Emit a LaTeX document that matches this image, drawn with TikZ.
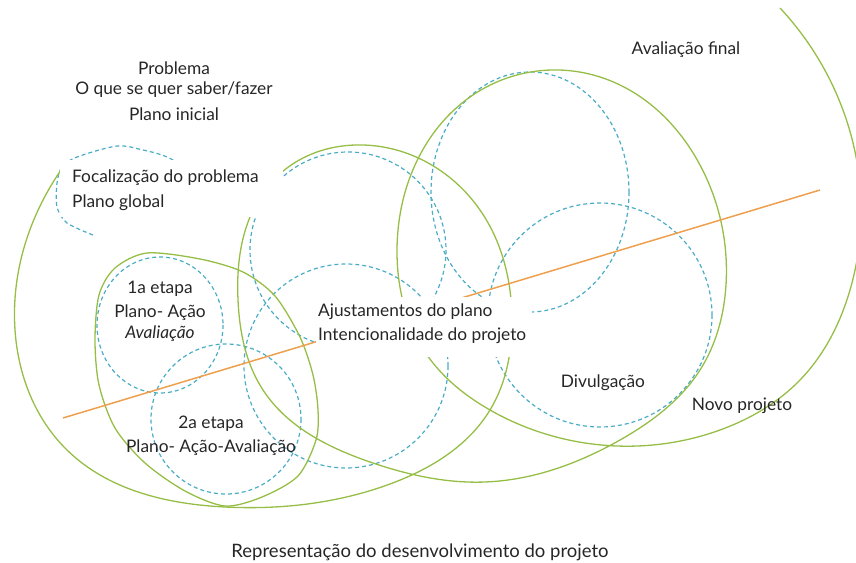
\documentclass[tikz,border=0pt]{standalone}
\usepackage{fontspec}
\setmainfont{Lato}
\usetikzlibrary{hobby}

\definecolor{spiralgreen}{RGB}{150,190,70}
\definecolor{loopblue}{RGB}{75,172,198}
\definecolor{axisorange}{RGB}{238,160,78}
\definecolor{labelgray}{RGB}{38,38,38}

\tikzset{
  spiral/.style={draw=spiralgreen, line width=1.3pt},
  loop/.style={draw=loopblue, line width=1.2pt, dash pattern=on 4pt off 3pt},
  axis/.style={draw=axisorange, line width=1.5pt},
  cover/.style={fill=white, draw=none, inner sep=0pt},
  lbl/.style={text=labelgray, font=\fontsize{17.3}{20}\selectfont, inner sep=0pt, anchor=base},
}

\begin{document}
\begin{tikzpicture}[x=1pt, y=-1pt]
    \useasboundingbox (0,0) rectangle (856,562);
    \clip (0,0) rectangle (856,562);

    % dashed loops
    \draw[loop] plot[smooth] coordinates {(93,235) (67,223) (57,207) (57,183) (62,167) (77,157) (117,146) (143,150) (167,157) (200,175)};
    \draw[loop] (160,325) ellipse [x radius=63, y radius=68];
    \draw[loop] (226,419) circle [radius=75];
    \draw[loop] (348,250) circle [radius=98];
    \draw[loop] (346,366) circle [radius=102];
    \draw[loop] (530,192) ellipse [x radius=99, y radius=120];
    \draw[loop] (600,315) circle [radius=112];

    % green spiral
    \draw[spiral] plot[smooth cycle] coordinates {(147,253) (200,259) (243,272) (275,296) (300,337) (313,375) (318,410) (316,440) (298,476) (262,497) (225,506) (185,491) (145,463) (115,428) (99,385) (95,340) (99,295) (115,268)};
    \draw[spiral, use Hobby shortcut] (66,163) .. (57,176) .. (15,330) .. (67,450) .. (225,507) .. (390,484) .. (490,410) .. (512,320) .. (480,210) .. (355,145) .. (282,172) .. (250,217) .. (238,300) .. (263,390) .. (370,462) .. (485,482) .. (620,440) .. (700,370) .. (726,285) .. (700,165) .. (620,85) .. (559,70) .. (470,97) .. (415,165) .. (397,250) .. (427,355) .. (490,410) .. (617,446) .. (720,430) .. (800,380) .. (850,290) .. (860,185) .. (830,80) .. (780,8);

    % axis line
    \coordinate (axisstart) at (63,418);
    \coordinate (axisend) at (820,190);
    \draw[axis] (axisstart) -- (axisend);

    % white boxes under the texts
    \node[cover, minimum width=223pt, minimum height=57pt] (focbox) at (171.5,188.5) {};
    \node[cover, minimum width=216pt, minimum height=60pt] (ajubox) at (424,327) {};

    % labels
    \node[lbl] (problema) at (174,74) {Problema};
    \node[lbl] (saber) at (174,94) {O que se quer saber/fazer};
    \node[lbl] (inicial) at (174,120) {Plano inicial};
    \node[lbl, anchor=base west] (focal) at (72,182) {Focalização do problema};
    \node[lbl, anchor=base west] (global) at (72,207) {Plano global};
    \node[lbl] (final) at (686,54) {Avaliação final};
    \node[lbl] (etapa1) at (160,293) {1a etapa};
    \node[lbl] (acao1) at (160,317) {Plano- Ação};
    \node[lbl, font=\fontsize{17.3}{20}\selectfont\itshape] (aval1) at (160,338) {Avaliação};
    \node[lbl] (etapa2) at (211,428) {2a etapa};
    \node[lbl] (acao2) at (211,452) {Plano- Ação-Avaliação};
    \node[lbl, anchor=base west] (ajuste) at (318,316) {Ajustamentos do plano};
    \node[lbl, anchor=base west] (intencao) at (318,340) {Intencionalidade do projeto};
    \node[lbl] (divulga) at (603,387) {Divulgação};
    \node[lbl] (novo) at (742,410) {Novo projeto};
    \node[lbl, font=\fontsize{18.5}{22}\selectfont] (legenda) at (420,557) {Representação do desenvolvimento do projeto};
\end{tikzpicture}
\end{document}
